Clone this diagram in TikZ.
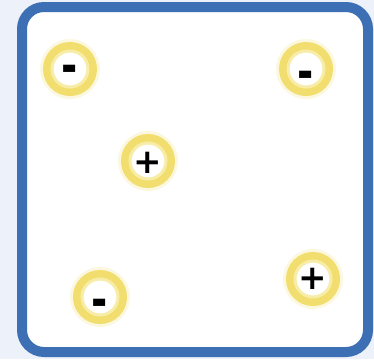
\documentclass[tikz,border=0pt]{standalone}
\usepackage{fontspec}
\setmainfont{DejaVu Sans}
\definecolor{bg}{HTML}{EDF1F9}
\definecolor{frame}{HTML}{3C6FB3}
\definecolor{ringy}{HTML}{F2DE6E}
\definecolor{ringl}{HTML}{F8EDA8}
\tikzset{
  charge/.style={circle, minimum size=44pt, inner sep=0pt, fill=white,
    draw=ringy, line width=10pt},
  sym/.style={inner sep=0pt, font=\bfseries\fontsize{34}{34}\selectfont, text=black},
  halo/.style={circle, minimum size=60pt, inner sep=0pt, fill=ringl, opacity=0.35},
  innerglow/.style={circle, minimum size=36pt, inner sep=0pt, draw=ringl, line width=3pt}
}
\newcommand{\minussym}{\scalebox{1.15}[1.5]{-}}
\begin{document}
\begin{tikzpicture}[x=1pt,y=-1pt]
\useasboundingbox (0,0) rectangle (374,359);
\fill[bg] (0,0) rectangle (374,359);
\draw[frame, line width=10pt, fill=white, rounded corners=22pt] (22,7) rectangle (368,352);
\foreach \x/\y in {70/69, 306/69, 148/161, 100/297, 313/279}{
  \node[halo] at (\x,\y) {};
}
\node[charge] (m1) at (70,69) {};
\node[charge] (m2) at (306,69) {};
\node[charge] (p1) at (148,161) {};
\node[charge] (m3) at (100,297) {};
\node[charge] (p2) at (313,279) {};
\foreach \n in {m1,m2,p1,m3,p2}{
  \node[innerglow] at (\n.center) {};
}
\node[sym] (tm1) at ([yshift=-5pt]m1.center) {\minussym};
\node[sym] (tm2) at ([yshift=-11pt]m2.center) {\minussym};
\node[sym] (tp1) at ([yshift=-2pt]p1.center) {+};
\node[sym] (tm3) at ([yshift=-11pt]m3.center) {\minussym};
\node[sym] (tp2) at ([yshift=0pt]p2.center) {+};
\end{tikzpicture}
\end{document}
